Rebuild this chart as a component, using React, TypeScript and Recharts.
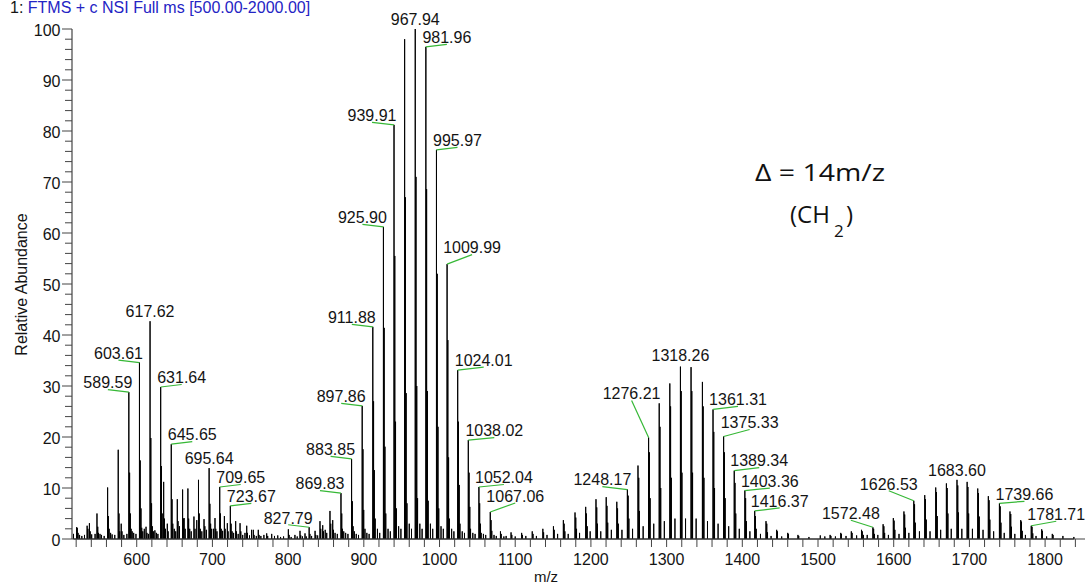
import React from 'react';
import { ComposedChart, Line, Scatter, XAxis, YAxis } from 'recharts';

// ---- spectrum sticks: [m/z, relative abundance] ----
const lowMassPeaks: [number, number][] = [
  [516.5, 1.0], [520.5, 2.3], [521.5, 2.2], [522.5, 1.2], [524.5, 0.8], [527.5, 0.6], [531.0, 0.8],
  [534.5, 2.6], [535.5, 2.0], [537.5, 3.1], [538.5, 1.5], [540.5, 0.9], [545.0, 1.0], [547.5, 5.0],
  [548.5, 2.4], [549.5, 1.2], [551.5, 1.0], [553.5, 0.8], [557.0, 0.6], [561.55, 10.1], [562.55, 4.5],
  [563.55, 2.0], [565.5, 1.2], [567.5, 0.9], [571.0, 0.8], [575.57, 17.5], [576.57, 5.0], [577.57, 1.5],
  [579.5, 3.0], [580.5, 1.5], [583.0, 0.8], [587.0, 1.0], [589.59, 28.8], [590.59, 13.0], [591.59, 5.0],
  [592.6, 2.0], [594.0, 1.5], [596.0, 1.2], [599.0, 1.0], [603.61, 34.6], [604.61, 15.4], [605.61, 6.0],
  [606.6, 2.2], [608.0, 1.5], [610.0, 2.0], [612.3, 2.4], [613.5, 1.2], [615.5, 1.0], [617.62, 42.7],
  [618.62, 19.8], [619.62, 7.0], [620.6, 2.5], [622.0, 1.5], [624.0, 1.7], [626.0, 1.2], [628.0, 1.0],
  [631.64, 29.8], [632.64, 14.3], [633.64, 5.0], [635.6, 11.2], [636.6, 4.0], [638.0, 2.0], [640.4, 3.0],
  [641.5, 1.5], [645.65, 18.6], [646.65, 7.8], [647.65, 3.0], [649.6, 2.0], [651.5, 1.5], [653.6, 7.8],
  [654.6, 3.5], [656.5, 2.5], [660.6, 9.7], [661.6, 4.0], [662.6, 4.1], [664.0, 2.0], [667.6, 9.9],
  [668.6, 4.0], [670.0, 2.0], [672.0, 1.5], [675.6, 4.4], [677.0, 2.0], [679.3, 3.7], [681.6, 11.6],
  [682.6, 5.0], [684.0, 2.0], [686.0, 1.5], [688.9, 3.9], [690.0, 2.5], [692.0, 1.8], [695.64, 13.9],
  [696.64, 6.9], [697.64, 3.0], [699.0, 2.0],
];

const midLowPeaks: [number, number][] = [
  [701.5, 2.0], [703.4, 4.1], [704.4, 2.0], [706.0, 1.5], [709.65, 10.2], [710.65, 5.0], [711.65, 2.0],
  [713.5, 1.6], [715.8, 4.5], [716.8, 2.0], [719.7, 3.1], [720.7, 1.5], [723.67, 6.5], [724.67, 3.0],
  [726.0, 1.5], [728.0, 1.2], [730.7, 3.5], [731.7, 1.5], [734.0, 1.0], [736.5, 3.1], [737.5, 1.5],
  [740.0, 0.8], [743.0, 1.2], [745.3, 2.6], [746.3, 1.2], [749.0, 0.7], [751.7, 1.8], [754.0, 1.8],
  [755.0, 0.8], [758.0, 0.6], [760.6, 1.8], [761.6, 0.8], [764.0, 0.6], [768.0, 0.8], [771.7, 1.1],
  [773.0, 0.6], [778.3, 1.0], [782.0, 0.6], [786.3, 0.7], [790.0, 0.4], [794.0, 0.5], [800.3, 1.9],
  [801.3, 0.8], [804.0, 0.4], [809.0, 0.8], [812.0, 0.5], [815.7, 1.6], [816.7, 0.7], [819.0, 0.5],
  [822.3, 1.1], [824.0, 0.5], [827.79, 2.3], [828.79, 1.0], [831.0, 0.6], [835.6, 1.6], [836.6, 0.8],
  [839.0, 0.7], [842.1, 3.5], [843.1, 2.0], [845.7, 2.7], [846.7, 1.5], [849.0, 1.8], [851.0, 1.2],
  [855.3, 5.5], [856.3, 3.0], [858.9, 3.7], [859.9, 1.8], [862.0, 1.2], [865.0, 1.0], [869.83, 9.0],
  [870.83, 5.0], [871.83, 2.0], [873.5, 1.5], [876.0, 1.2], [879.0, 1.0], [883.85, 15.7], [884.85, 7.4],
  [885.85, 2.5], [887.5, 1.5], [890.0, 1.0], [893.0, 0.8], [897.86, 26.1], [898.86, 17.6], [899.86, 5.7],
];

const mainSeriesPeaks: [number, number][] = [
  [901.5, 2.0], [904.0, 1.2], [907.0, 1.0], [911.88, 41.6], [912.88, 27.0], [913.88, 13.5], [915.0, 4.0],
  [918.0, 2.0], [921.0, 1.2], [925.9, 61.2], [926.9, 41.4], [927.9, 18.1], [929.0, 5.0], [932.0, 2.0],
  [935.0, 1.5], [939.91, 81.2], [940.91, 55.5], [941.91, 23.0], [943.0, 6.0], [946.0, 2.5], [949.0, 2.0],
  [953.92, 98.0], [954.92, 67.0], [955.92, 28.6], [957.0, 7.0], [960.0, 3.0], [963.0, 2.0], [967.94, 100],
  [968.94, 71.0], [969.94, 30.0], [971.0, 8.0], [974.0, 3.0], [977.0, 2.0], [981.96, 96.5], [982.96, 68.6],
  [983.96, 29.0], [985.0, 7.5], [988.0, 3.0], [991.0, 2.0], [995.97, 76.3], [996.97, 52.0], [997.97, 22.0],
  [999.0, 6.0], [1002.0, 2.5], [1005.0, 2.0], [1009.99, 53.9], [1010.99, 39.0], [1011.99, 16.0],
  [1013.0, 4.0], [1016.0, 2.0], [1019.0, 1.5], [1024.01, 33.1], [1025.01, 23.0], [1026.01, 10.6],
  [1027.0, 3.0], [1030.0, 1.5], [1033.0, 1.2], [1038.02, 19.4], [1039.02, 13.0], [1040.02, 6.3],
  [1041.0, 2.0], [1044.0, 1.2], [1047.0, 1.0], [1052.04, 10.2], [1053.04, 7.0], [1054.04, 3.0],
  [1055.0, 1.2], [1058.0, 1.0], [1061.0, 0.8], [1067.06, 5.3], [1068.06, 3.7], [1069.06, 1.6],
  [1072.0, 0.8], [1075.0, 0.6], [1080.5, 1.5], [1081.5, 1.0], [1085.0, 0.5], [1088.0, 0.6],
  [1094.5, 1.3], [1095.5, 0.8],
];

const midHighPeaks: [number, number][] = [
  [1100.0, 0.5], [1108.5, 1.2], [1109.5, 0.8], [1114.0, 0.6], [1122.5, 1.5], [1123.5, 1.0], [1128.0, 0.6],
  [1136.5, 2.0], [1137.5, 1.3], [1142.0, 0.8], [1150.5, 2.5], [1151.5, 1.8], [1156.0, 1.0], [1163.6, 3.7],
  [1164.6, 3.0], [1165.6, 1.5], [1170.0, 1.0], [1179.0, 5.2], [1180.0, 4.2], [1181.0, 2.0], [1185.0, 1.2],
  [1193.1, 6.3], [1194.1, 5.0], [1195.1, 2.5], [1199.0, 1.5], [1206.7, 7.8], [1207.7, 6.2], [1208.7, 3.0],
  [1213.0, 1.5], [1220.2, 8.2], [1221.2, 6.5], [1222.2, 3.2], [1227.0, 1.8], [1234.2, 7.3], [1235.2, 6.0],
  [1236.2, 3.0], [1241.0, 1.8], [1248.17, 9.7], [1249.17, 8.5], [1250.17, 4.0], [1255.0, 2.0],
  [1262.19, 14.4], [1263.19, 12.0], [1264.19, 5.5], [1269.0, 2.5], [1276.21, 19.9], [1277.21, 17.0],
  [1278.21, 8.0], [1283.0, 3.0], [1290.23, 26.6], [1291.23, 22.0], [1292.23, 10.0], [1297.0, 3.5],
  [1304.24, 30.5], [1305.24, 26.0], [1306.24, 12.0], [1311.0, 4.0], [1318.26, 33.8], [1319.26, 29.0],
  [1320.26, 13.0], [1325.0, 4.0], [1332.28, 33.7], [1333.28, 29.0], [1334.28, 13.0], [1339.0, 4.0],
  [1347.29, 30.8], [1348.29, 26.0], [1349.29, 12.0], [1354.0, 3.5], [1361.31, 25.4], [1362.31, 21.0],
  [1363.31, 10.0], [1368.0, 3.0], [1375.33, 20.1], [1376.33, 17.0], [1377.33, 8.0], [1382.0, 2.5],
  [1389.34, 13.4], [1390.34, 11.0], [1391.34, 5.0], [1396.0, 2.0], [1403.36, 9.5], [1404.36, 8.0],
  [1405.36, 3.5], [1410.0, 1.5], [1416.37, 5.5], [1417.37, 4.5], [1418.37, 2.0], [1424.0, 1.0],
  [1431.3, 3.5], [1432.3, 3.0], [1433.3, 1.3], [1438.0, 0.6], [1445.4, 1.8], [1446.4, 1.5], [1452.0, 0.5],
  [1460.0, 1.2], [1461.0, 1.0], [1473.5, 0.8], [1474.5, 0.6],
];

const highMassPeaks: [number, number][] = [
  [1488.0, 0.4], [1503.0, 0.7], [1509.0, 0.5], [1516.0, 0.8], [1517.0, 0.6], [1523.0, 0.5], [1530.0, 1.2],
  [1531.0, 1.0], [1537.0, 0.6], [1544.0, 1.5], [1545.0, 1.2], [1551.0, 0.7], [1557.5, 1.8], [1558.5, 1.5],
  [1560.0, 0.8], [1565.0, 0.8], [1572.48, 2.3], [1573.48, 2.0], [1574.48, 1.0], [1579.0, 0.8],
  [1586.0, 2.9], [1587.0, 2.5], [1588.0, 1.2], [1593.0, 0.8], [1599.5, 4.1], [1600.5, 3.6], [1601.5, 1.8],
  [1607.0, 1.0], [1613.5, 5.4], [1614.5, 4.8], [1615.5, 2.2], [1620.0, 1.2], [1626.53, 7.5], [1627.53, 6.8],
  [1628.53, 3.2], [1634.0, 1.5], [1641.0, 8.6], [1642.0, 7.8], [1643.0, 3.8], [1648.0, 1.5], [1655.5, 10.1],
  [1656.5, 9.2], [1657.5, 4.5], [1662.0, 1.8], [1669.6, 10.9], [1670.6, 10.0], [1671.6, 5.0], [1676.0, 2.0],
  [1683.6, 11.6], [1684.6, 10.5], [1685.6, 5.2], [1690.0, 2.0], [1697.0, 11.2], [1698.0, 10.2], [1699.0, 5.0],
  [1704.0, 2.0], [1711.0, 9.9], [1712.0, 9.0], [1713.0, 4.4], [1718.0, 1.8], [1725.0, 8.4], [1726.0, 7.6],
  [1727.0, 3.8], [1732.0, 1.5], [1739.66, 7.0], [1740.66, 6.4], [1741.66, 3.2], [1746.0, 1.2], [1753.6, 5.4],
  [1754.6, 4.9], [1755.6, 2.4], [1760.0, 1.0], [1767.8, 3.7], [1768.8, 3.4], [1769.8, 1.6], [1774.0, 0.8],
  [1781.71, 2.6], [1782.71, 2.4], [1783.71, 1.1], [1788.0, 0.6], [1795.5, 1.9], [1796.5, 1.6], [1802.0, 0.5],
  [1809.5, 1.0], [1810.5, 0.8], [1823.5, 0.6], [1838.0, 0.4],
];

// ---- annotated peaks ----
const peakLabels: string[] = [
  '589.59', '603.61', '617.62', '631.64', '645.65', '695.64', '709.65', '723.67', '827.79', '869.83',
  '883.85', '897.86', '911.88', '925.90', '939.91', '967.94', '981.96', '995.97', '1009.99', '1024.01',
  '1038.02', '1052.04', '1067.06', '1248.17', '1276.21', '1318.26', '1361.31', '1375.33', '1389.34',
  '1403.36', '1416.37', '1572.48', '1626.53', '1683.60', '1739.66', '1781.71',
];

// label layout (pixel offset of the label anchor from the peak top): [dx, dy]
const labelLayout: [number, number][] = [
  [-21, -2.5], [-21, -2.5], [0, -3], [21, -2.5], [21, -2.5], [0, -3], [21, -2.5], [21, -2.5], [-21, -2.5],
  [-21, -2.5], [-21, -2.5], [-21, -2.5], [-21, -2.5], [-21, -2.5], [-22, -2.5], [0, -3], [21, -2.5],
  [21, -2.5], [25, -9.5], [26, -3], [26, -2.5], [25, -2.5], [25, -9], [-25, -3], [-17, -37], [0, -4],
  [25, -3], [26, -7], [25, -3], [25, -2.5], [25, -3], [-22, -7], [-25, -10], [0, -3], [25, -2], [25, -4.5],
];

const xTickLabels = [600, 700, 800, 900, 1000, 1100, 1200, 1300, 1400, 1500, 1600, 1700, 1800];
const yTickLabels = [0, 10, 20, 30, 40, 50, 60, 70, 80, 90, 100];

const X_DOMAIN: [number, number] = [514.5, 1852.7];

const allPeaks = [...lowMassPeaks, ...midLowPeaks, ...mainSeriesPeaks, ...midHighPeaks, ...highMassPeaks];

// stick spectrum path: baseline -> top -> baseline for every peak
const stickData: { mz: number; ab: number }[] = [];
allPeaks.forEach(([mz, ab]) => {
  stickData.push({ mz, ab: 0 });
  stickData.push({ mz, ab });
  stickData.push({ mz, ab: 0 });
});

const labelData = peakLabels.map((text, i) => {
  const v = parseFloat(text);
  const found = allPeaks.find(([mz]) => Math.abs(mz - v) < 0.001);
  return { mz: v, ab: found ? found[1] : 0, text, dx: labelLayout[i][0], dy: labelLayout[i][1] };
});

const xMinorTicks: number[] = [];
for (let v = 520; v <= 1840; v += 20) xMinorTicks.push(v);
const yMinorTicks: number[] = [];
for (let v = 0; v <= 100; v += 2) yMinorTicks.push(v);

const FONT = "'Liberation Sans', Arial, sans-serif";
const AXIS = '#444';

const PeakLabel = (props: any) => {
  const { cx, cy } = props;
  const p = props.payload || props;
  if (cx == null || cy == null) return null;
  const lx = cx + p.dx;
  const ly = cy + p.dy;
  return (
    <g>
      {p.dx !== 0 && <line x1={cx} y1={cy} x2={lx} y2={ly} stroke="#36b836" strokeWidth={1.2} />}
      <text x={lx} y={ly - 1.2} textAnchor="middle" fontSize={16} fontFamily={FONT} fill="#141414">
        {p.text}
      </text>
    </g>
  );
};

const XTick = (props: any) => {
  const { x, y, payload } = props;
  const v = payload.value;
  return (
    <g>
      <line x1={x} y1={y - 8} x2={x} y2={y} stroke={AXIS} strokeWidth={1} />
      {xTickLabels.includes(v) && (
        <text x={x} y={y + 18} textAnchor="middle" fontSize={16} fontFamily={FONT} fill="#141414">
          {v}
        </text>
      )}
    </g>
  );
};

const YTick = (props: any) => {
  const { x, y, payload } = props;
  const v = payload.value;
  const major = yTickLabels.includes(v);
  // x is axis position - tickSize(10)
  return (
    <g>
      <line x1={major ? x : x + 3} y1={y} x2={x + 10} y2={y} stroke={AXIS} strokeWidth={1} />
      {major && (
        <text x={x - 1.5} y={y + 6.8} textAnchor="end" fontSize={16} fontFamily={FONT} fill="#141414">
          {v}
        </text>
      )}
    </g>
  );
};

export default function App() {
  return (
    <div style={{ position: 'absolute', left: 0, top: 0, width: 1086, height: 588, background: '#fff' }}>
      <ComposedChart
        width={1086}
        height={588}
        data={stickData}
        margin={{ top: 29, right: 1, bottom: 0, left: 0 }}
      >
        <XAxis
          dataKey="mz"
          type="number"
          domain={X_DOMAIN}
          ticks={xMinorTicks}
          interval={0}
          height={49}
          tickSize={8}
          tickMargin={0}
          tickLine={false}
          axisLine={{ stroke: AXIS, strokeWidth: 1.2 }}
          tick={<XTick />}
        />
        <YAxis
          type="number"
          domain={[0, 100]}
          ticks={yMinorTicks}
          interval={0}
          width={72}
          tickSize={10}
          tickMargin={0}
          tickLine={false}
          axisLine={{ stroke: AXIS, strokeWidth: 1.2 }}
          tick={<YTick />}
        />
        <Line
          dataKey="ab"
          type="linear"
          stroke="#000"
          strokeWidth={1}
          dot={false}
          activeDot={false}
          isAnimationActive={false}
        />
        <Scatter
          data={labelData}
          dataKey="ab"
          isAnimationActive={false}
          shape={<PeakLabel />}
        />
      </ComposedChart>
      <svg
        width={1086}
        height={588}
        style={{ position: 'absolute', left: 0, top: 0, pointerEvents: 'none' }}
      >
        <text x={10} y={12.5} fontSize={16} fontFamily={FONT}>
          <tspan fill="#141414">1: </tspan>
          <tspan fill="#2424c4">FTMS + c NSI Full ms [500.00-2000.00]</tspan>
        </text>
        <text
          x={0}
          y={0}
          transform="translate(26.5 284.5) rotate(-90)"
          textAnchor="middle"
          fontSize={16}
          fontFamily={FONT}
          fill="#141414"
        >
          Relative Abundance
        </text>
        <text x={546} y={582} textAnchor="middle" fontSize={15} fontFamily={FONT} fill="#141414">
          m/z
        </text>
        <text x={755} y={181} fontSize={24} fontFamily="'Open Sans', 'Noto Sans', sans-serif" fill="#111"
          textLength={130} lengthAdjust="spacingAndGlyphs">
          Δ = 14m/z
        </text>
        <text x={790} y={223} fontSize={24} fontFamily="'Open Sans', 'Noto Sans', sans-serif" fill="#111">
          (CH
        </text>
        <text x={834} y={237} fontSize={17} fontFamily="'Open Sans', 'Noto Sans', sans-serif" fill="#111">
          2
        </text>
        <text x={846} y={223} fontSize={24} fontFamily="'Open Sans', 'Noto Sans', sans-serif" fill="#111">
          )
        </text>
      </svg>
    </div>
  );
}
